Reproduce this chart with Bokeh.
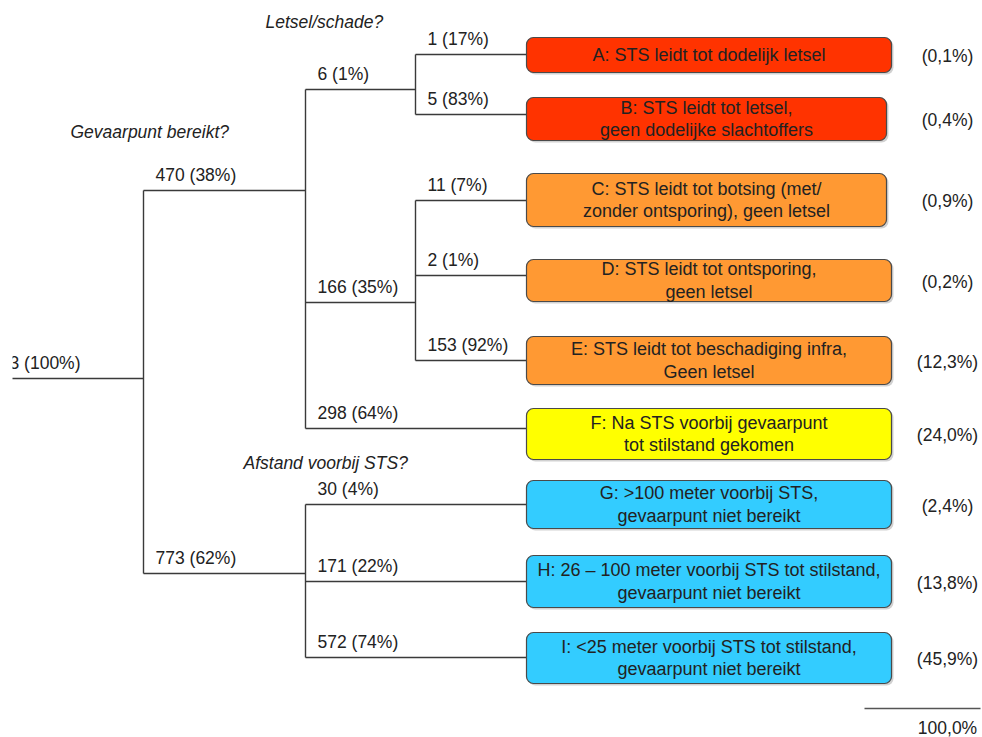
from bokeh.plotting import figure
from bokeh.models import Range1d, ColumnDataSource
from bokeh.core.properties import value
from bokeh.embed import file_html
from bokeh.resources import INLINE

# ---------------- data ----------------
root_count = 1243
root_share = 100
questions = ["Gevaarpunt bereikt?", "Letsel/schade?", "Afstand voorbij STS?"]

# branches (count, share %) in tree order
branch_names = ["ja", "nee", "letsel", "schade", "geen", "dood", "gewond",
                "botsing", "ontsporing", "infra", "g100", "g26", "g25"]
branch_counts = [470, 773, 6, 166, 298, 1, 5, 11, 2, 153, 30, 171, 572]
branch_shares = [38, 62, 1, 35, 64, 17, 83, 7, 1, 92, 4, 22, 74]
branch_parent = ["root", "root", "ja", "ja", "ja", "letsel", "letsel",
                 "schade", "schade", "schade", "nee", "nee", "nee"]

outcome_codes = ["A", "B", "C", "D", "E", "F", "G", "H", "I"]
outcome_branch = ["dood", "gewond", "botsing", "ontsporing", "infra", "geen", "g100", "g26", "g25"]
outcome_lines = [
    ["A: STS leidt tot dodelijk letsel"],
    ["B: STS leidt tot letsel,", "geen dodelijke slachtoffers"],
    ["C: STS leidt tot botsing (met/", "zonder ontsporing), geen letsel"],
    ["D: STS leidt tot ontsporing,", "geen letsel"],
    ["E: STS leidt tot beschadiging infra,", "Geen letsel"],
    ["F: Na STS voorbij gevaarpunt", "tot stilstand gekomen"],
    ["G: >100 meter voorbij STS,", "gevaarpunt niet bereikt"],
    ["H: 26 \u2013 100 meter voorbij STS tot stilstand,", "gevaarpunt niet bereikt"],
    ["I: <25 meter voorbij STS tot stilstand,", "gevaarpunt niet bereikt"],
]
outcome_shares = [0.1, 0.4, 0.9, 0.2, 12.3, 24.0, 2.4, 13.8, 45.9]
total_share = 100.0

# ---------------- layout / style ----------------
FONT = value("Liberation Sans")
FS = "17.5px"
FS_BOX = "18px"
LINE = "#3a3a3a"
TXT = "#222222"
level_x = {"root": 143, "ja": 305, "nee": 305, "letsel": 415, "schade": 415}
root_y = 378
root_x0 = 0
branch_y = {"ja": 190, "nee": 573, "letsel": 89, "schade": 302, "geen": 428,
            "dood": 54, "gewond": 114, "botsing": 200, "ontsporing": 275,
            "infra": 360, "g100": 504, "g26": 581, "g25": 657}
box_x0, box_x1 = 526, 891
box_right = {"B": 886, "C": 886}
box_top = [37, 97, 173, 259, 336, 408, 480, 555, 632]
box_bot = [72, 140, 226, 301, 384, 459, 528, 607, 683]
box_colors = {"A": "#FF3300", "B": "#FF3300", "C": "#FF9933", "D": "#FF9933",
              "E": "#FF9933", "F": "#FFFF00", "G": "#33CCFF", "H": "#33CCFF",
              "I": "#33CCFF"}
question_pos = [(70, 131), (265, 21), (243, 462)]
pct_x = 947

def fmt(v):
    return "(" + f"{v:.1f}".replace(".", ",") + "%)"

p = figure(width=982, height=737, x_range=Range1d(12, 982), y_range=Range1d(737, 0),
           x_axis_type=None, y_axis_type=None, toolbar_location=None,
           output_backend="svg", min_border_left=12, min_border_right=0,
           min_border_top=0, min_border_bottom=0)
p.grid.visible = False
p.outline_line_color = None
p.background_fill_color = "white"

# ---------------- tree lines ----------------
xs, ys = [], []
xs.append([root_x0, level_x["root"]]); ys.append([root_y, root_y])
for name, parent in zip(branch_names, branch_parent):
    x0 = level_x[parent]
    y = branch_y[name]
    x1 = level_x[name] if name in level_x else box_x0
    xs.append([x0, x1]); ys.append([y, y])
for parent in ["root", "ja", "nee", "letsel", "schade"]:
    kids = [branch_y[n] for n, pp in zip(branch_names, branch_parent) if pp == parent]
    xs.append([level_x[parent], level_x[parent]]); ys.append([min(kids), max(kids)])
p.multi_line(xs, ys, line_color=LINE, line_width=1.4)

# ---------------- branch labels ----------------
lab_x, lab_y, lab_t = [], [], []
for name, parent, c, s in zip(branch_names, branch_parent, branch_counts, branch_shares):
    lab_x.append(level_x[parent] + 12)
    lab_y.append(branch_y[name] - 16)
    lab_t.append(f"{c} ({s}%)")
p.text(lab_x, lab_y, text=lab_t, text_font=FONT, text_font_size=FS,
       text_color=TXT, text_baseline="middle", text_align="left")
p.text([80], [root_y - 16], text=[f"{root_count} ({root_share}%)"], text_font=FONT,
       text_font_size=FS, text_color=TXT, text_baseline="middle", text_align="right")

# questions
p.text([q[0] for q in question_pos], [q[1] for q in question_pos], text=questions,
       text_font=FONT, text_font_size=FS, text_font_style="italic",
       text_color=TXT, text_baseline="middle", text_align="left")

# ---------------- outcome boxes ----------------
rights = [box_right.get(c, box_x1) for c in outcome_codes]
src = ColumnDataSource(dict(
    left=[box_x0] * len(outcome_codes), right=rights,
    top=box_top, bottom=box_bot,
    color=[box_colors[c] for c in outcome_codes]))
p.quad(left=[box_x0 + 2] * len(outcome_codes), right=[r + 2 for r in rights],
       top=[t + 2 for t in box_top], bottom=[b + 2 for b in box_bot],
       fill_color="#9a9a9a", fill_alpha=0.45, line_color=None, border_radius=7)
p.quad(left="left", right="right", top="top", bottom="bottom", source=src,
       fill_color="color", line_color="#4a4a4a", line_width=1.2, border_radius=7)

tx, ty, tt = [], [], []
for code, lines, t, b, r in zip(outcome_codes, outcome_lines, box_top, box_bot, rights):
    cy = (t + b) / 2
    cx = (box_x0 + r) / 2
    n = len(lines)
    for i, ln in enumerate(lines):
        tx.append(cx)
        ty.append(cy + (i - (n - 1) / 2) * 22.5)
        tt.append(ln)
p.text(tx, ty, text=tt, text_font=FONT, text_font_size=FS_BOX, text_color=TXT,
       text_baseline="middle", text_align="center")

# right-hand shares
p.text([pct_x] * len(outcome_shares), [(t + b) / 2 + 1 for t, b in zip(box_top, box_bot)],
       text=[fmt(v) for v in outcome_shares], text_font=FONT, text_font_size=FS,
       text_color=TXT, text_baseline="middle", text_align="center")

# total
p.line([864, 980], [708, 708], line_color="#555555", line_width=1.5)
p.text([pct_x], [727], text=[f"{total_share:.1f}".replace(".", ",") + "%"],
       text_font=FONT, text_font_size=FS, text_color=TXT,
       text_baseline="middle", text_align="center")

open("out.html", "w").write(file_html(p, INLINE))
